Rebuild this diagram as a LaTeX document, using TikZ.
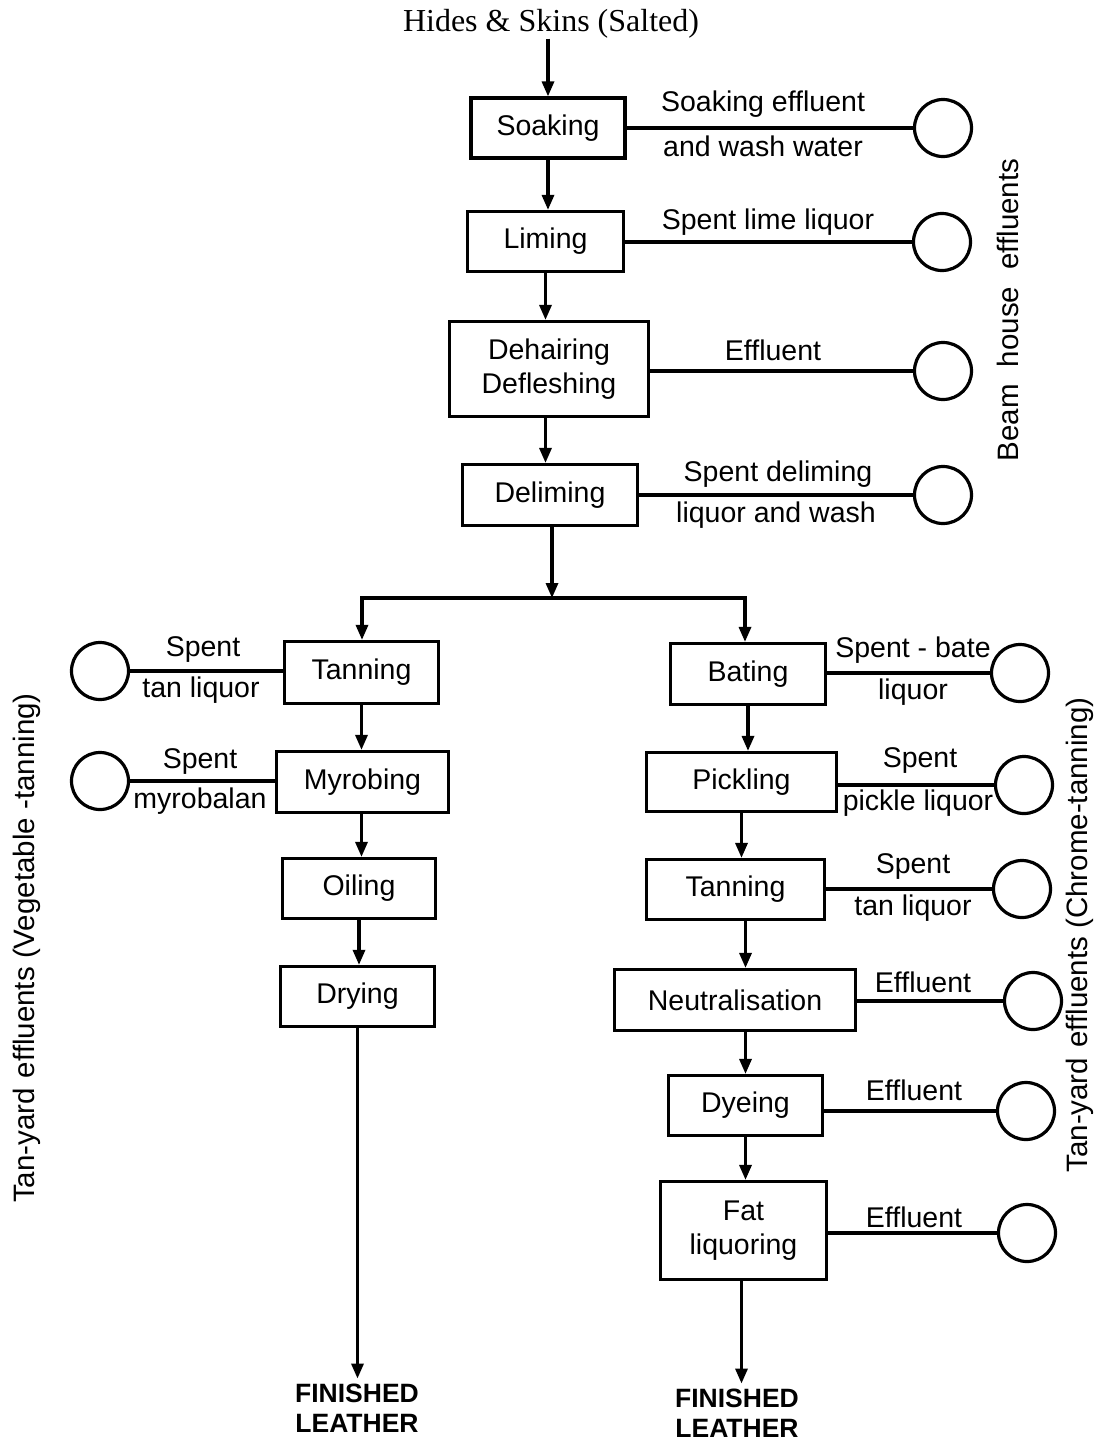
\documentclass[tikz,border=0pt]{standalone}
\usepackage{fontspec}
\setmainfont{Liberation Sans}
\newfontfamily\headserif{Liberation Serif}
\usetikzlibrary{arrows.meta}
\begin{document}
\begin{tikzpicture}[x=1pt,y=-1pt,
  txt/.style={font=\fontsize{28.5}{34}\selectfont},
  box/.style n args={2}{draw,line width=3.2pt,inner sep=0pt,txt,align=center,minimum width=#1,minimum height=#2},
  lab/.style={txt,inner sep=0pt},
  circ/.style={draw,circle,line width=3.2pt,minimum size=57pt,inner sep=0pt},
  ln/.style={line width=3.2pt},
  arr/.style={line width=3.2pt,-{Triangle[length=15pt,width=12pt]}},
  side/.style={font=\fontsize{29.5}{34}\selectfont,rotate=90,inner sep=0pt},
  fin/.style={font=\fontsize{26.5}{30}\selectfont\bfseries,align=center,inner sep=0pt}]
\useasboundingbox (0,0) rectangle (1102,1441);
% top input
\node[font=\headserif\fontsize{32}{36}\selectfont,inner sep=0pt] (hides) at (551,24) {Hides \& Skins (Salted)};
% beam house
\node[box={154}{60}] (soak) at (548,128) {Soaking};
\node[box={156}{60}] (lime) at (545.5,241.5) {Liming};
\node[box={199}{95}] (dehair) at (549,369) {Dehairing\\Defleshing};
\node[box={175}{61}] (delim) at (550,495) {Deliming};
\node[circ] (c1) at (943,128) {};
\node[circ] (c2) at (942,242) {};
\node[circ] (c3) at (943,371) {};
\node[circ] (c4) at (943,495) {};
\node[lab] (l1a) at (763,104) {Soaking effluent};
\node[lab] (l1b) at (763,146) {and wash water};
\node[lab] (l2) at (768,222) {Spent lime liquor};
\node[lab] (l3) at (773,350) {Effluent};
\node[lab] (l4a) at (778,474) {Spent deliming};
\node[lab] (l4b) at (776,515) {liquor and wash};
\node[side] (beam) at (1008,310) {Beam\hspace{17pt}house\hspace{17pt}effluents};
\draw[arr] (hides.south -| soak.north) -- (soak.north);
\draw[arr] (soak.south) -- (soak.south |- lime.north);
\draw[arr] (lime.south) -- (lime.south |- dehair.north);
\draw[arr] (dehair.south -| lime.south) -- (lime.south |- delim.north);
\draw[ln] (soak.east |- c1.west) -- (c1.west);
\draw[ln] (lime.east |- c2.west) -- (c2.west);
\draw[ln] (dehair.east |- c3.west) -- (c3.west);
\draw[ln] (delim.east |- c4.west) -- (c4.west);
% split
\coordinate (split) at (552,598);
\coordinate (splitL) at (362,598);
\coordinate (splitR) at (745,598);
\draw[arr] (delim.south -| split) -- (split);
\draw[ln,line cap=rect] (splitL) -- (splitR);
% left branch
\node[box={154}{62}] (tanL) at (361.5,672.5) {Tanning};
\node[box={172}{61}] (myro) at (362.5,782) {Myrobing};
\node[box={153}{60}] (oil) at (359,888.5) {Oiling};
\node[box={154}{60}] (dry) at (357.5,996.5) {Drying};
\node[circ] (cL1) at (100,671) {};
\node[circ] (cL2) at (100,781) {};
\node[lab] (lL1a) at (203,649) {Spent};
\node[lab] (lL1b) at (201,690) {tan liquor};
\node[lab] (lL2a) at (200,761) {Spent};
\node[lab] (lL2b) at (200,801) {myrobalan};
\node[fin] (fin1) at (357,1408) {FINISHED\\LEATHER};
\node[side] (veg) at (27,948) {Tan-yard\hspace{10pt}effluents (Vegetable -tanning)};
\draw[arr] (splitL) -- (splitL |- tanL.north);
\draw[arr] (tanL.south) -- (tanL.south |- myro.north);
\draw[arr] (myro.south -| tanL.south) -- (tanL.south |- oil.north);
\draw[arr] (oil.south) -- (oil.south |- dry.north);
\draw[arr,shorten >=5pt] (dry.south) -- (dry.south |- fin1.north);
\draw[ln] (tanL.west |- cL1.east) -- (cL1.east);
\draw[ln] (myro.west |- cL2.east) -- (cL2.east);
% right branch
\node[box={155}{61}] (bate) at (748,674) {Bating};
\node[box={190}{59}] (pick) at (741.5,782) {Pickling};
\node[box={178}{60}] (tanR) at (735.5,889.5) {Tanning};
\node[box={241}{61}] (neut) at (735,1000) {Neutralisation};
\node[box={154}{60}] (dye) at (745.5,1105.5) {Dyeing};
\node[box={166}{98}] (fat) at (743.5,1230.5) {Fat\\liquoring};
\node[circ] (cR1) at (1020,673) {};
\node[circ] (cR2) at (1024,785) {};
\node[circ] (cR3) at (1022,889) {};
\node[circ] (cR4) at (1033,1001) {};
\node[circ] (cR5) at (1026,1111) {};
\node[circ] (cR6) at (1027,1233) {};
\node[lab] (lR1a) at (913,650) {Spent - bate};
\node[lab] (lR1b) at (913,692) {liquor};
\node[lab] (lR2a) at (920,760) {Spent};
\node[lab] (lR2b) at (918,803) {pickle liquor};
\node[lab] (lR3a) at (913,866) {Spent};
\node[lab] (lR3b) at (913,908) {tan liquor};
\node[lab] (lR4) at (923,982) {Effluent};
\node[lab] (lR5) at (914,1090) {Effluent};
\node[lab] (lR6) at (914,1217) {Effluent};
\node[fin] (fin2) at (737,1413) {FINISHED\\LEATHER};
\node[side] (chrome) at (1080,935) {Tan-yard\hspace{10pt}effluents (Chrome-tanning)};
\draw[arr] (splitR) -- (splitR |- bate.north);
\draw[arr] (bate.south) -- (bate.south |- pick.north);
\draw[arr] (pick.south) -- (pick.south |- tanR.north);
\draw[arr] (tanR.south -| dye.north) -- (dye.north |- neut.north);
\draw[arr] (neut.south -| dye.north) -- (dye.north);
\draw[arr] (dye.south) -- (dye.south |- fat.north);
\draw[arr,shorten >=5pt] (fat.south -| pick.south) -- (pick.south |- fin2.north);
\draw[ln] (bate.east |- cR1.west) -- (cR1.west);
\draw[ln] (pick.east |- cR2.west) -- (cR2.west);
\draw[ln] (tanR.east |- cR3.west) -- (cR3.west);
\draw[ln] (neut.east |- cR4.west) -- (cR4.west);
\draw[ln] (dye.east |- cR5.west) -- (cR5.west);
\draw[ln] (fat.east |- cR6.west) -- (cR6.west);
\end{tikzpicture}
\end{document}
